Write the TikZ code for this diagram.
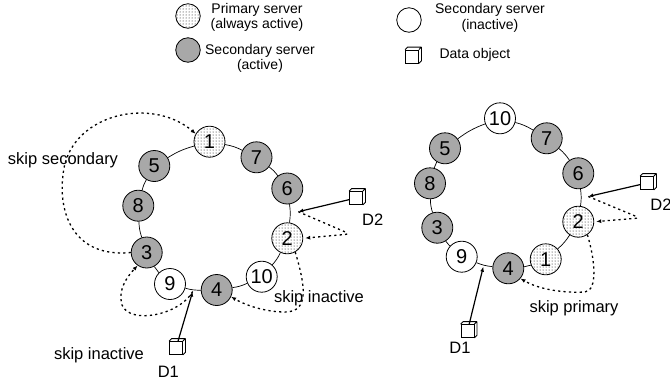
\documentclass[tikz,border=0pt]{standalone}
\usepackage{fontspec}
\setmainfont{Liberation Sans}
\usetikzlibrary{arrows.meta,patterns}

\definecolor{activegray}{gray}{0.66}

\newcommand{\dataobject}[2]{%
  \node[dobox] (#1) at #2 {};
  \draw[doedge] (#1.north west) -- ([shift={(2.5,-2.5)}]#1.north west)
    -- ([shift={(2.5,-2.5)}]#1.north east) -- ([shift={(2.5,-2.5)}]#1.south east)
    -- (#1.south east) (#1.north east) -- ([shift={(2.5,-2.5)}]#1.north east);
}

\begin{document}
\begin{tikzpicture}[x=1pt, y=-1pt,
  server/.style={circle, draw, line width=0.8pt, minimum size=31pt,
    inner sep=0pt, font=\fontsize{20}{22}\selectfont},
  primary/.style={server, pattern=dots},
  active/.style={server, fill=activegray},
  inactive/.style={server, fill=white},
  legendmark/.style={circle, draw, line width=0.8pt, minimum size=24.5pt,
    inner sep=0pt},
  legendtext/.style={align=center, font=\fontsize{14}{15.5}\selectfont},
  dobox/.style={draw, fill=white, line width=0.8pt, minimum size=13pt,
    inner sep=0pt},
  doedge/.style={line width=0.8pt, line join=round},
  ring/.style={line width=0.7pt},
  feed/.style={-{Latex[length=5pt,width=4pt]}, line width=1.2pt},
  skip/.style={-{Latex[length=5pt,width=4pt]}, line width=1.3pt,
    dash pattern=on 2.2pt off 3.2pt},
  lbl/.style={font=\fontsize{16.5}{18}\selectfont}
]
  \useasboundingbox (0,0) rectangle (670,384);

  \node[legendmark, pattern=dots] (lgprim) at (188,16) {};
  \node[legendtext] (lgprimtxt) at (257,17.5) {Primary server\\(always active)};
  \node[legendmark, fill=activegray] (lgact) at (188,50) {};
  \node[legendtext] (lgacttxt) at (260,58.5) {Secondary server\\(active)};
  \node[legendmark] (lginact) at (409,20) {};
  \node[legendtext] (lginacttxt) at (490,18) {Secondary server\\(inactive)};
  \dataobject{lgdata}{(412,56.5)}
  \node[legendtext, anchor=west] (lgdatatxt) at (436,55) {Data object};

  \node[primary] (l1) at (209.5,141.7) {1};
  \node[active] (l7) at (256.5,157.3) {7};
  \node[active] (l6) at (287.3,188.5) {6};
  \node[primary] (l2) at (287.3,238.3) {2};
  \node[inactive] (l10) at (261.7,276.7) {10};
  \node[active] (l4) at (216.7,290) {4};
  \node[inactive] (l9) at (170,284) {9};
  \node[active] (l3) at (146.7,252.5) {3};
  \node[active] (l8) at (138.3,205.7) {8};
  \node[active] (l5) at (154.3,166) {5};
  \foreach \a/\b in {1/7,7/6,6/2,2/10,10/4,4/9,9/3,3/8,8/5,5/1}
    \draw[ring] (l\a) to[bend left=8] (l\b);

  \coordinate (lk1) at (192.7,291.5);
  \coordinate (lk2) at (298.3,211.7);
  \dataobject{ld1}{(176,348)}
  \dataobject{ld2}{(356,198)}
  \draw[feed] (ld1) -- (lk1);
  \draw[feed] (ld2) -- (lk2);

  \draw[skip] (l3.west) .. controls (75,258) and (58,215) .. (63,175)
    .. controls (68,115) and (150,95) .. (l1.150);
  \draw[skip] (lk1) .. controls (180,315) and (130,325) .. (122,305)
    .. controls (118,290) and (126,278) .. (l3.235);
  \draw[skip] (l2.-60) .. controls (305,285) and (310,312) .. (285,312)
    .. controls (265,312) and (245,305) .. (l4.-25);
  \draw[skip, rounded corners=5pt, shorten >=2pt] (lk2) -- (350,234) -- (l2.east);

  \node[lbl] (lskipsec) at (63,160) {skip secondary};
  \node[lbl] (lskipina) at (99,355) {skip inactive};
  \node[lbl] (lskipinb) at (319,298) {skip inactive};
  \node[lbl] (ld1txt) at (168.3,371.7) {D1};
  \node[lbl] (ld2txt) at (372.7,220) {D2};

  \node[inactive] (r10) at (500,118.3) {10};
  \node[active] (r7) at (546.7,138.3) {7};
  \node[active] (r6) at (578.3,173.3) {6};
  \node[primary] (r2) at (578.3,221.7) {2};
  \node[primary] (r1) at (545.7,259.3) {1};
  \node[active] (r4) at (508.3,268.3) {4};
  \node[inactive] (r9) at (461.7,256.7) {9};
  \node[active] (r3) at (437.3,227.7) {3};
  \node[active] (r8) at (430,183.3) {8};
  \node[active] (r5) at (445,148.3) {5};
  \foreach \a/\b in {10/7,7/6,6/2,2/1,1/4,4/9,9/3,3/8,8/5,5/10}
    \draw[ring] (r\a) to[bend left=8] (r\b);

  \coordinate (rk1) at (483.3,266.7);
  \coordinate (rk2) at (588.3,196.5);
  \dataobject{rd1}{(467.5,331)}
  \dataobject{rd2}{(647,183)}
  \draw[feed] (rd1) -- (rk1);
  \draw[feed] (rd2) -- (rk2);

  \draw[skip, rounded corners=5pt, shorten >=2pt] (rk2) -- (640,218) -- (r2.east);
  \draw[skip] (r2.-55) .. controls (595,260) and (598,290) .. (585,292)
    .. controls (565,293) and (540,290) .. (r4.-40);

  \node[lbl] (rskippri) at (574,308) {skip primary};
  \node[lbl] (rd1txt) at (460,348.3) {D1};
  \node[lbl] (rd2txt) at (661,205) {D2};
\end{tikzpicture}
\end{document}
